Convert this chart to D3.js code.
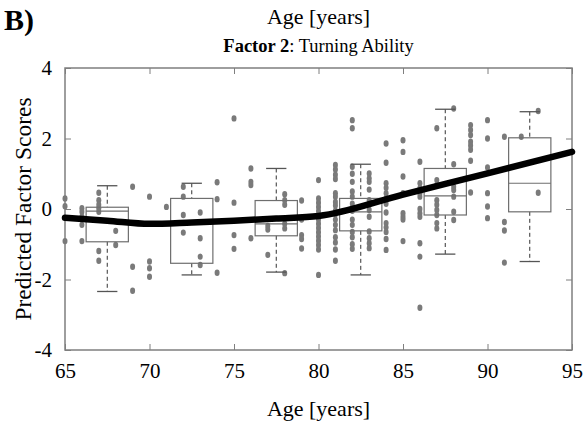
<!DOCTYPE html>
<html>
<head>
<meta charset="utf-8">
<script src="https://cdn.jsdelivr.net/npm/d3@7"></script>
<style>
  body { margin: 0; background: #fff; }
  svg { display: block; font-family: "Liberation Serif", "Times New Roman", serif; }
</style>
</head>
<body>
<div id="chart"></div>
<script>
// scatter: one age per column, scores at that age
var dotAges = [65, 66, 67, 68, 69, 70, 71, 72, 73, 74, 75, 76, 77, 78, 79, 80, 81, 82, 83, 84, 85, 86, 87, 88, 89, 90, 91, 92, 93];
var dotScores = [
  [0.3, 0.08, -0.91],
  [0.02, -0.08, -0.22, -0.45, -0.91],
  [0.46, 0.25, 0.12, 0.02, -0.08, -1.19, -1.47],
  [-0.62, -1.02],
  [0.63, -1.64, -2.32],
  [0.35, -1.49, -1.68, -1.92],
  [0.06],
  [0.63, 0.35, -0.17, -0.67],
  [-0.1, -0.83, -1.35, -1.59],
  [0.76, 0.28, -1.81],
  [2.57, 0.18, -0.74, -1.13],
  [1.15, 0.77, 0.68, -0.83],
  [-0.48, -0.58, -1.3],
  [0.42, 0.25, 0.12, -0.42, -0.55, -1.82],
  [0.24, -0.3, -0.74, -0.85, -1.12],
  [0.82, 0.3, 0.18, 0.06, -0.06, -0.18, -0.3, -0.42, -0.54, -0.66, -0.78, -0.9, -1.02, -1.15, -1.87],
  [1.25, 1.12, 0.97, 0.85, 0.45, 0.35, 0.2, 0.1, -0.05, -0.15, -0.3, -0.45, -0.6, -0.8, -0.95, -1.15, -1.47],
  [2.52, 2.29, 1.2, 1.0, 0.77, 0.5, 0.35, 0.15, -0.05, -0.3, -0.45, -0.65, -0.8, -1.0, -1.13],
  [1.01, 0.87, 0.77, 0.55, 0.25, 0.12, -0.03, -0.22, -0.64, -0.83, -0.97, -1.11],
  [1.86, 1.31, 0.73, 0.6, 0.45, 0.3, 0.15, -0.1, -0.4, -0.52, -0.65, -0.85, -1.16],
  [1.95, 1.62, 0.92, 0.45, -0.12, -0.22, -0.3, -0.91],
  [1.34, 0.73, 0.59, 0.45, 0.35, 0.0, -0.12, -0.22, -0.97, -1.35, -2.8],
  [2.29, 0.82, 0.68, 0.25, 0.12, -0.03, -0.17, -0.4, -0.55],
  [2.85, 1.27, 0.63, 0.54, 0.35, -0.08, -0.31],
  [2.38, 2.24, 2.1, 1.91, 1.8, 1.68, 1.37, 0.47],
  [2.52, 2.0, 1.18, 0.45, 0.07, -0.26],
  [2.05, -0.37, -0.61, -1.52],
  [2.05],
  [2.78, 0.46]
];

// boxplots per 5-year group
var boxCenters = [67.5, 72.5, 77.5, 82.5, 87.5, 92.5];
var boxLow = [-2.34, -1.87, -1.79, -1.87, -1.28, -1.49];
var boxQ1 = [-0.93, -1.54, -0.76, -0.62, -0.17, -0.08];
var boxMedian = [-0.06, -0.35, -0.42, -0.08, 0.37, 0.73];
var boxQ3 = [0.05, 0.3, 0.24, 0.3, 1.15, 2.02];
var boxHigh = [0.66, 0.73, 1.15, 1.27, 2.83, 2.76];

// trend line
var trendAges = [65, 67.5, 70, 72.5, 75, 77.5, 80, 85, 90, 95];
var trendScores = [-0.25, -0.33, -0.42, -0.38, -0.33, -0.27, -0.2, 0.41, 1.01, 1.62];

var xTicks = [65, 70, 75, 80, 85, 90, 95];
var yTicks = [-4, -2, 0, 2, 4];

var width = 584, height = 423;
var margin = { top: 68, right: 12, bottom: 73, left: 65 };
var chartWidth = width - margin.left - margin.right;
var chartHeight = height - margin.top - margin.bottom;

var svg = d3.select("#chart").append("svg")
  .attr("width", width)
  .attr("height", height);

var chartGroup = svg.append("g")
  .attr("transform", `translate(${margin.left}, ${margin.top})`);

var x = d3.scaleLinear().domain([65, 95]).range([0, chartWidth]);
var y = d3.scaleLinear().domain([-4, 4]).range([chartHeight, 0]);

var frameColor = "#7f7f7f";
var plainNum = d => String(d);

// inward ticks on all four sides
chartGroup.append("g")
  .attr("transform", `translate(0, ${chartHeight})`)
  .call(d3.axisBottom(x).tickValues(xTicks).tickSize(-6).tickPadding(13).tickFormat(plainNum))
  .call(g => g.select(".domain").remove())
  .call(g => g.selectAll("line").attr("stroke", frameColor))
  .call(g => g.selectAll("text").attr("font-size", 21).attr("fill", "#000").attr("font-family", "Liberation Serif"));

chartGroup.append("g")
  .call(d3.axisTop(x).tickValues(xTicks).tickSize(-6).tickFormat(""))
  .call(g => g.select(".domain").remove())
  .call(g => g.selectAll("line").attr("stroke", frameColor));

chartGroup.append("g")
  .call(d3.axisLeft(y).tickValues(yTicks).tickSize(-6).tickPadding(13).tickFormat(plainNum))
  .call(g => g.select(".domain").remove())
  .call(g => g.selectAll("line").attr("stroke", frameColor))
  .call(g => g.selectAll("text").attr("font-size", 21).attr("fill", "#000").attr("font-family", "Liberation Serif"));

chartGroup.append("g")
  .attr("transform", `translate(${chartWidth}, 0)`)
  .call(d3.axisRight(y).tickValues(yTicks).tickSize(-6).tickFormat(""))
  .call(g => g.select(".domain").remove())
  .call(g => g.selectAll("line").attr("stroke", frameColor));

chartGroup.append("rect")
  .attr("width", chartWidth)
  .attr("height", chartHeight)
  .attr("fill", "none")
  .attr("stroke", frameColor)
  .attr("stroke-width", 1.5);

// scatter points
var dots = [];
dotAges.forEach(function(age, i) {
  dotScores[i].forEach(function(s) { dots.push({ age: age, score: s }); });
});

chartGroup.append("g")
  .selectAll("ellipse")
  .data(dots)
  .enter()
  .append("ellipse")
  .attr("cx", d => x(d.age))
  .attr("cy", d => y(d.score))
  .attr("rx", 2.5)
  .attr("ry", 3.2)
  .attr("fill", "#7a7a7a");

// boxplots
var halfW = 1.25;
var capW = 0.6;
var boxes = chartGroup.append("g")
  .selectAll("g")
  .data(boxCenters.map((c, i) => ({ c: c, lo: boxLow[i], q1: boxQ1[i], med: boxMedian[i], q3: boxQ3[i], hi: boxHigh[i] })))
  .enter()
  .append("g");

boxes.append("line")
  .attr("x1", d => x(d.c)).attr("x2", d => x(d.c))
  .attr("y1", d => y(d.hi)).attr("y2", d => y(d.q3))
  .attr("stroke", "#333").attr("stroke-dasharray", "4,3");

boxes.append("line")
  .attr("x1", d => x(d.c)).attr("x2", d => x(d.c))
  .attr("y1", d => y(d.q1)).attr("y2", d => y(d.lo))
  .attr("stroke", "#333").attr("stroke-dasharray", "4,3");

boxes.append("line")
  .attr("x1", d => x(d.c - capW)).attr("x2", d => x(d.c + capW))
  .attr("y1", d => y(d.hi)).attr("y2", d => y(d.hi))
  .attr("stroke", "#555").attr("stroke-width", 1.3);

boxes.append("line")
  .attr("x1", d => x(d.c - capW)).attr("x2", d => x(d.c + capW))
  .attr("y1", d => y(d.lo)).attr("y2", d => y(d.lo))
  .attr("stroke", "#555").attr("stroke-width", 1.3);

boxes.append("rect")
  .attr("x", d => x(d.c - halfW))
  .attr("y", d => y(d.q3))
  .attr("width", d => x(d.c + halfW) - x(d.c - halfW))
  .attr("height", d => y(d.q1) - y(d.q3))
  .attr("fill", "none")
  .attr("stroke", "#6e6e6e")
  .attr("stroke-width", 1.2);

boxes.append("line")
  .attr("x1", d => x(d.c - halfW)).attr("x2", d => x(d.c + halfW))
  .attr("y1", d => y(d.med)).attr("y2", d => y(d.med))
  .attr("stroke", "#6e6e6e").attr("stroke-width", 1.2);

// trend line
var line = d3.line()
  .x((d, i) => x(trendAges[i]))
  .y(d => y(d))
  .curve(d3.curveMonotoneX);

chartGroup.append("path")
  .datum(trendScores)
  .attr("d", line)
  .attr("fill", "none")
  .attr("stroke", "#000")
  .attr("stroke-width", 6.5)
  .attr("stroke-linecap", "round");

// labels
chartGroup.append("text")
  .attr("text-anchor", "middle")
  .attr("x", chartWidth / 2)
  .attr("y", chartHeight + 66)
  .attr("font-size", 22)
  .text("Age [years]");

chartGroup.append("text")
  .attr("text-anchor", "middle")
  .attr("transform", "rotate(-90)")
  .attr("x", -chartHeight / 2)
  .attr("y", -34)
  .attr("font-size", 23.5)
  .text("Predicted Factor Scores");

var title = chartGroup.append("text")
  .attr("text-anchor", "middle")
  .attr("x", chartWidth / 2)
  .attr("y", -16)
  .attr("font-size", 18.5);
title.append("tspan").attr("font-weight", "bold").text("Factor 2");
title.append("tspan").text(": Turning Ability");

svg.append("text")
  .attr("text-anchor", "middle")
  .attr("x", margin.left + chartWidth / 2)
  .attr("y", 24)
  .attr("font-size", 22)
  .text("Age [years]");

svg.append("text")
  .attr("x", 4)
  .attr("y", 30)
  .attr("font-size", 30)
  .attr("font-weight", "bold")
  .text("B)");
</script>
</body>
</html>
